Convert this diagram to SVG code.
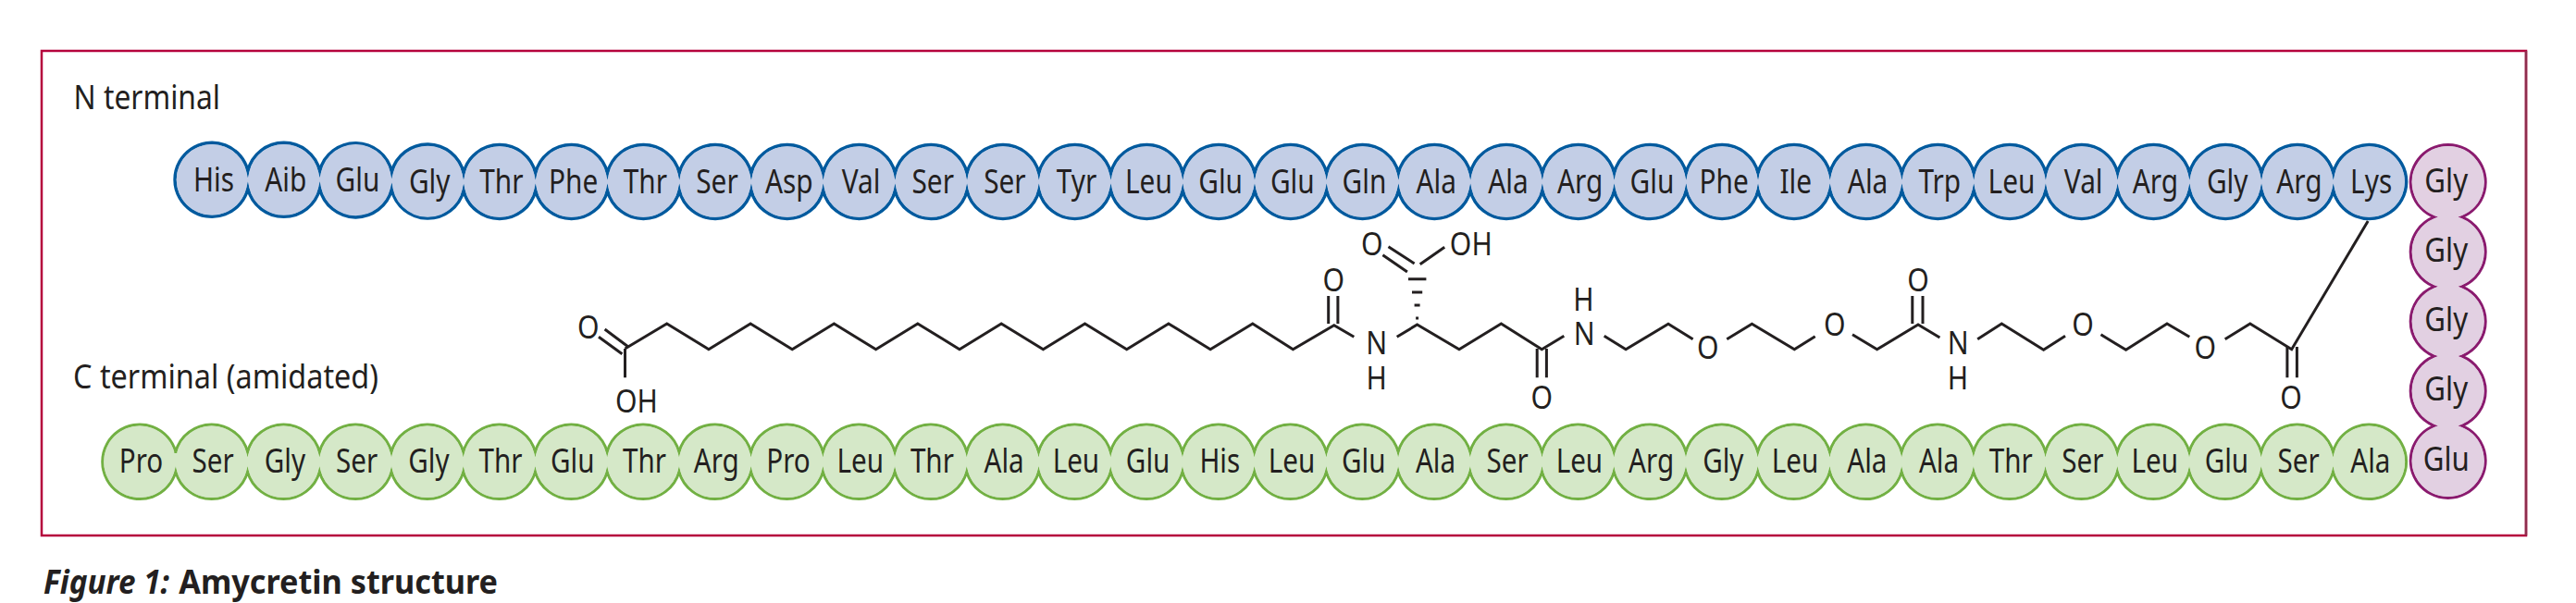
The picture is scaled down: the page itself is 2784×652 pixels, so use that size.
<svg xmlns="http://www.w3.org/2000/svg" width="2784" height="652" viewBox="0 0 2784 652">
<style>
text{font-family:"Noto Sans","Open Sans","Liberation Sans",sans-serif;fill:#231f20;font-size:35.5px}
.n text{text-anchor:middle}
.b text{transform:translate(2px,12.6px) scale(.84,1)}
.g text{font-size:37px;transform:translate(1.5px,12px) scale(.8,1)}
.p text{transform:translate(-2px,10.5px) scale(.88,1)}
.b circle{fill:#c3cee6}.g circle{fill:#d5e8c8}.p circle{fill:#e2d0e2}
.chain{stroke-width:3.5;stroke-linejoin:miter;stroke-miterlimit:12}
.bond{fill:none;stroke:#231f20;stroke-width:3;stroke-linejoin:miter}
.a{text-anchor:middle}
</style>
<rect x="45" y="55" width="2685" height="524" fill="#fff" stroke="#b5003c" stroke-width="2.5"/>
<line x1="2730" y1="55" x2="2730" y2="579" stroke="#8e2d4d" stroke-width="2.5"/>
<text x="79.5" y="118" textLength="158.5" lengthAdjust="spacingAndGlyphs" style="font-size:36px">N terminal</text>
<text x="79" y="420" textLength="330" lengthAdjust="spacingAndGlyphs" style="font-size:36px">C terminal (amidated)</text>
<text x="47" y="641.5" textLength="136" lengthAdjust="spacingAndGlyphs" style="font-size:36.5px;font-weight:700;font-style:italic">Figure 1:</text>
<text x="193.3" y="641.5" textLength="344.7" lengthAdjust="spacingAndGlyphs" style="font-size:36.5px;font-weight:700">Amycretin structure</text>

<g id="chain-outlines">
<path class="chain" fill="#c3cee6" stroke="#005a9e" d="M267.9 184.8a40 40 0 0 1 77.72 0a40 40 0 0 1 77.72 1.1a40 40 0 0 1 77.72 1.1
a40 40 0 0 1 77.72 0a40 40 0 0 1 77.72 0a40 40 0 0 1 77.72 0a40 40 0 0 1 77.72 0a40 40 0 0 1 77.72 0a40 40 0 0 1 77.72 0a40 40 0 0 1 77.72 0a40 40 0 0 1 77.72 0a40 40 0 0 1 77.72 0a40 40 0 0 1 77.72 0a40 40 0 0 1 77.72 0a40 40 0 0 1 77.72 0a40 40 0 0 1 77.72 0
a40 40 0 0 1 77.72 0a40 40 0 0 1 77.72 0a40 40 0 0 1 77.72 0a40 40 0 0 1 77.72 0a40 40 0 0 1 77.72 0a40 40 0 0 1 77.72 0a40 40 0 0 1 77.72 0a40 40 0 0 1 77.72 0a40 40 0 0 1 77.72 0a40 40 0 0 1 77.72 0a40 40 0 0 1 77.72 0a40 40 0 0 1 77.72 0a40 40 0 0 1 77.72 0
a40 40 0 1 1 0 19
a40 40 0 0 1 -77.72 0a40 40 0 0 1 -77.72 0a40 40 0 0 1 -77.72 0a40 40 0 0 1 -77.72 0a40 40 0 0 1 -77.72 0a40 40 0 0 1 -77.72 0a40 40 0 0 1 -77.72 0a40 40 0 0 1 -77.72 0a40 40 0 0 1 -77.72 0a40 40 0 0 1 -77.72 0a40 40 0 0 1 -77.72 0a40 40 0 0 1 -77.72 0a40 40 0 0 1 -77.72 0
a40 40 0 0 1 -77.72 0a40 40 0 0 1 -77.72 0a40 40 0 0 1 -77.72 0a40 40 0 0 1 -77.72 0a40 40 0 0 1 -77.72 0a40 40 0 0 1 -77.72 0a40 40 0 0 1 -77.72 0a40 40 0 0 1 -77.72 0a40 40 0 0 1 -77.72 0a40 40 0 0 1 -77.72 0a40 40 0 0 1 -77.72 0a40 40 0 0 1 -77.72 0a40 40 0 0 1 -77.72 0
a40 40 0 0 1 -77.72 -1.1a40 40 0 0 1 -77.72 -1.1a40 40 0 0 1 -77.72 0a40 40 0 1 1 0 -19z"/>
<path class="chain" style="stroke-width:3" fill="#d5e8c8" stroke="#72b043" d="M189.86 488.6
a40.3 40.3 0 0 1 77.72 0a40.3 40.3 0 0 1 77.72 0a40.3 40.3 0 0 1 77.72 0a40.3 40.3 0 0 1 77.72 0a40.3 40.3 0 0 1 77.72 0a40.3 40.3 0 0 1 77.72 0a40.3 40.3 0 0 1 77.72 0a40.3 40.3 0 0 1 77.72 0a40.3 40.3 0 0 1 77.72 0a40.3 40.3 0 0 1 77.72 0
a40.3 40.3 0 0 1 77.72 0a40.3 40.3 0 0 1 77.72 0a40.3 40.3 0 0 1 77.72 0a40.3 40.3 0 0 1 77.72 0a40.3 40.3 0 0 1 77.72 0a40.3 40.3 0 0 1 77.72 0a40.3 40.3 0 0 1 77.72 0a40.3 40.3 0 0 1 77.72 0a40.3 40.3 0 0 1 77.72 0a40.3 40.3 0 0 1 77.72 0
a40.3 40.3 0 0 1 77.72 0a40.3 40.3 0 0 1 77.72 0a40.3 40.3 0 0 1 77.72 0a40.3 40.3 0 0 1 77.72 0a40.3 40.3 0 0 1 77.72 0a40.3 40.3 0 0 1 77.72 0a40.3 40.3 0 0 1 77.72 0a40.3 40.3 0 0 1 77.72 0a40.3 40.3 0 0 1 77.72 0a40.3 40.3 0 0 1 77.72 0
a40.3 40.3 0 1 1 0 21.4
a40.3 40.3 0 0 1 -77.72 0a40.3 40.3 0 0 1 -77.72 0a40.3 40.3 0 0 1 -77.72 0a40.3 40.3 0 0 1 -77.72 0a40.3 40.3 0 0 1 -77.72 0a40.3 40.3 0 0 1 -77.72 0a40.3 40.3 0 0 1 -77.72 0a40.3 40.3 0 0 1 -77.72 0a40.3 40.3 0 0 1 -77.72 0a40.3 40.3 0 0 1 -77.72 0
a40.3 40.3 0 0 1 -77.72 0a40.3 40.3 0 0 1 -77.72 0a40.3 40.3 0 0 1 -77.72 0a40.3 40.3 0 0 1 -77.72 0a40.3 40.3 0 0 1 -77.72 0a40.3 40.3 0 0 1 -77.72 0a40.3 40.3 0 0 1 -77.72 0a40.3 40.3 0 0 1 -77.72 0a40.3 40.3 0 0 1 -77.72 0a40.3 40.3 0 0 1 -77.72 0
a40.3 40.3 0 0 1 -77.72 0a40.3 40.3 0 0 1 -77.72 0a40.3 40.3 0 0 1 -77.72 0a40.3 40.3 0 0 1 -77.72 0a40.3 40.3 0 0 1 -77.72 0a40.3 40.3 0 0 1 -77.72 0a40.3 40.3 0 0 1 -77.72 0a40.3 40.3 0 0 1 -77.72 0a40.3 40.3 0 0 1 -77.72 0a40.3 40.3 0 0 1 -77.72 0
a40.3 40.3 0 1 1 0 -21.4z"/>
<path class="chain" style="stroke-width:3" fill="#e2d0e2" stroke="#8a1a6e" d="M2660.7 234.6a40.5 40.5 0 0 1 0 75.25a40.5 40.5 0 0 1 0 75.25a40.5 40.5 0 0 1 0 75.25a40.5 40.5 0 1 1 -30 0a40.5 40.5 0 0 1 0 -75.25a40.5 40.5 0 0 1 0 -75.25a40.5 40.5 0 0 1 0 -75.25a40.5 40.5 0 1 1 30 0z"/>
</g>

<g id="connectors">
<path class="bond" d="M675.5 377L720.7 350L765.9 377.7L811.1 350L856.2 377.7L901.4 350L946.6 377.7L991.8 350L1037 377.7L1082.2 350L1127.4 377.7L1172.5 350L1217.7 377.7L1262.9 350L1308.1 377.7L1353.8 350L1397.4 377.7L1441.8 351.7L1463.3 364.3"/>
<path class="bond" d="M653.6 356L679 375M647 364.3L672.4 382.7M675.5 377V408.3"/>
<path class="bond" d="M1435.7 320V350M1445.9 320V350"/>
<path class="bond" d="M1509.7 364.3L1531.6 351L1577 377.7L1622.4 350L1666.3 377.7L1690.3 363.3"/>
<path class="bond" d="M1661.2 377V408.3M1671.4 377V408.3"/>
<path class="bond" d="M1733.7 363.3L1757.1 377.7L1803 350.3L1829.6 366.7"/>
<path class="bond" d="M1866.3 366.7L1893.4 350.3L1939.3 377.7L1961.7 363.7"/>
<path class="bond" d="M2002 361.7L2028.6 377.7L2073 351L2096.4 365"/>
<path class="bond" d="M2066.8 320V350M2078 320V350"/>
<path class="bond" d="M2137.2 366.7L2163.3 350L2208.6 378.3L2232 363.3"/>
<path class="bond" d="M2270.5 361.7L2297.6 378.3L2342 350L2366.3 364.3"/>
<path class="bond" d="M2404.7 366.7L2431.8 350L2476.7 377.7L2559.2 239"/>
<path class="bond" d="M2471.9 375V408.3M2482.4 375V408.3"/>
<path class="bond" d="M1500.5 266.7L1528.6 285M1494.4 275.7L1520.9 294M1534.7 285.7L1561.2 267.3"/>
<path class="bond" d="M1522 301.7H1541.4M1526 316H1537.2M1528.6 330H1534.6M1530.1 344H1533.1"/>
</g>

<g id="atoms" class="a">
<text class="a" transform="translate(635.7 366) scale(.85 1)">O</text>
<text class="a" transform="translate(688 446) scale(.85 1)">OH</text>
<text class="a" transform="translate(1441.3 315) scale(.85 1)">O</text>
<text class="a" transform="translate(1487.8 383.3) scale(.85 1)">N</text>
<text class="a" transform="translate(1487.8 420.7) scale(.85 1)">H</text>
<text class="a" transform="translate(1482.7 276) scale(.85 1)">O</text>
<text class="a" transform="translate(1589.8 276) scale(.85 1)">OH</text>
<text class="a" transform="translate(1666.3 441.7) scale(.85 1)">O</text>
<text class="a" transform="translate(1712.2 373.3) scale(.85 1)">N</text>
<text class="a" transform="translate(1711.5 335.7) scale(.85 1)">H</text>
<text class="a" transform="translate(1845.9 387.7) scale(.85 1)">O</text>
<text class="a" transform="translate(1982.7 363.3) scale(.85 1)">O</text>
<text class="a" transform="translate(2073 315) scale(.85 1)">O</text>
<text class="a" transform="translate(2116.3 383.3) scale(.85 1)">N</text>
<text class="a" transform="translate(2116 420.7) scale(.85 1)">H</text>
<text class="a" transform="translate(2251 362.7) scale(.85 1)">O</text>
<text class="a" transform="translate(2383.3 387.7) scale(.85 1)">O</text>
<text class="a" transform="translate(2476 441.7) scale(.85 1)">O</text>
</g>

<g id="n-chain" class="b">
<g id="n1" class="n" transform="translate(229 194.3)"><circle r="38.3"/><text>His</text></g>
<g id="n2" class="n" transform="translate(306.7 194.3)"><circle r="38.3"/><text>Aib</text></g>
<g id="n3" class="n" transform="translate(384.4 194.3)"><circle r="38.3"/><text>Glu</text></g>
<g id="n4" class="n" transform="translate(462.2 196.5)"><circle r="38.3"/><text>Gly</text></g>
<g id="n5" class="n" transform="translate(539.9 196.5)"><circle r="38.3"/><text>Thr</text></g>
<g id="n6" class="n" transform="translate(617.6 196.5)"><circle r="38.3"/><text>Phe</text></g>
<g id="n7" class="n" transform="translate(695.3 196.5)"><circle r="38.3"/><text>Thr</text></g>
<g id="n8" class="n" transform="translate(773 196.5)"><circle r="38.3"/><text>Ser</text></g>
<g id="n9" class="n" transform="translate(850.8 196.5)"><circle r="38.3"/><text>Asp</text></g>
<g id="n10" class="n" transform="translate(928.5 196.5)"><circle r="38.3"/><text>Val</text></g>
<g id="n11" class="n" transform="translate(1006.2 196.5)"><circle r="38.3"/><text>Ser</text></g>
<g id="n12" class="n" transform="translate(1083.9 196.5)"><circle r="38.3"/><text>Ser</text></g>
<g id="n13" class="n" transform="translate(1161.6 196.5)"><circle r="38.3"/><text>Tyr</text></g>
<g id="n14" class="n" transform="translate(1239.4 196.5)"><circle r="38.3"/><text>Leu</text></g>
<g id="n15" class="n" transform="translate(1317.1 196.5)"><circle r="38.3"/><text>Glu</text></g>
<g id="n16" class="n" transform="translate(1394.8 196.5)"><circle r="38.3"/><text>Glu</text></g>
<g id="n17" class="n" transform="translate(1472.5 196.5)"><circle r="38.3"/><text>Gln</text></g>
<g id="n18" class="n" transform="translate(1550.2 196.5)"><circle r="38.3"/><text>Ala</text></g>
<g id="n19" class="n" transform="translate(1628 196.5)"><circle r="38.3"/><text>Ala</text></g>
<g id="n20" class="n" transform="translate(1705.7 196.5)"><circle r="38.3"/><text>Arg</text></g>
<g id="n21" class="n" transform="translate(1783.4 196.5)"><circle r="38.3"/><text>Glu</text></g>
<g id="n22" class="n" transform="translate(1861.1 196.5)"><circle r="38.3"/><text>Phe</text></g>
<g id="n23" class="n" transform="translate(1938.8 196.5)"><circle r="38.3"/><text>Ile</text></g>
<g id="n24" class="n" transform="translate(2016.6 196.5)"><circle r="38.3"/><text>Ala</text></g>
<g id="n25" class="n" transform="translate(2094.3 196.5)"><circle r="38.3"/><text>Trp</text></g>
<g id="n26" class="n" transform="translate(2172 196.5)"><circle r="38.3"/><text>Leu</text></g>
<g id="n27" class="n" transform="translate(2249.7 196.5)"><circle r="38.3"/><text>Val</text></g>
<g id="n28" class="n" transform="translate(2327.4 196.5)"><circle r="38.3"/><text>Arg</text></g>
<g id="n29" class="n" transform="translate(2405.2 196.5)"><circle r="38.3"/><text>Gly</text></g>
<g id="n30" class="n" transform="translate(2482.9 196.5)"><circle r="38.3"/><text>Arg</text></g>
<g id="n31" class="n" transform="translate(2560.6 196.5)"><circle r="38.3"/><text>Lys</text></g>
</g>

<g id="linker" class="p">
<g id="l1" class="n" transform="translate(2645.7 197)"><circle r="39"/><text>Gly</text></g>
<g id="l2" class="n" transform="translate(2645.7 272.25)"><circle r="39"/><text>Gly</text></g>
<g id="l3" class="n" transform="translate(2645.7 347.5)"><circle r="39"/><text>Gly</text></g>
<g id="l4" class="n" transform="translate(2645.7 422.75)"><circle r="39"/><text>Gly</text></g>
<g id="l5" class="n" transform="translate(2645.7 498)"><circle r="39"/><text>Glu</text></g>
</g>

<g id="c-chain" class="g">
<g id="c1" class="n" transform="translate(151 499.3)"><circle r="38.8"/><text>Pro</text></g>
<g id="c2" class="n" transform="translate(228.7 499.3)"><circle r="38.8"/><text>Ser</text></g>
<g id="c3" class="n" transform="translate(306.4 499.3)"><circle r="38.8"/><text>Gly</text></g>
<g id="c4" class="n" transform="translate(384.2 499.3)"><circle r="38.8"/><text>Ser</text></g>
<g id="c5" class="n" transform="translate(461.9 499.3)"><circle r="38.8"/><text>Gly</text></g>
<g id="c6" class="n" transform="translate(539.6 499.3)"><circle r="38.8"/><text>Thr</text></g>
<g id="c7" class="n" transform="translate(617.3 499.3)"><circle r="38.8"/><text>Glu</text></g>
<g id="c8" class="n" transform="translate(695 499.3)"><circle r="38.8"/><text>Thr</text></g>
<g id="c9" class="n" transform="translate(772.8 499.3)"><circle r="38.8"/><text>Arg</text></g>
<g id="c10" class="n" transform="translate(850.5 499.3)"><circle r="38.8"/><text>Pro</text></g>
<g id="c11" class="n" transform="translate(928.2 499.3)"><circle r="38.8"/><text>Leu</text></g>
<g id="c12" class="n" transform="translate(1005.9 499.3)"><circle r="38.8"/><text>Thr</text></g>
<g id="c13" class="n" transform="translate(1083.6 499.3)"><circle r="38.8"/><text>Ala</text></g>
<g id="c14" class="n" transform="translate(1161.4 499.3)"><circle r="38.8"/><text>Leu</text></g>
<g id="c15" class="n" transform="translate(1239.1 499.3)"><circle r="38.8"/><text>Glu</text></g>
<g id="c16" class="n" transform="translate(1316.8 499.3)"><circle r="38.8"/><text>His</text></g>
<g id="c17" class="n" transform="translate(1394.5 499.3)"><circle r="38.8"/><text>Leu</text></g>
<g id="c18" class="n" transform="translate(1472.2 499.3)"><circle r="38.8"/><text>Glu</text></g>
<g id="c19" class="n" transform="translate(1550 499.3)"><circle r="38.8"/><text>Ala</text></g>
<g id="c20" class="n" transform="translate(1627.7 499.3)"><circle r="38.8"/><text>Ser</text></g>
<g id="c21" class="n" transform="translate(1705.4 499.3)"><circle r="38.8"/><text>Leu</text></g>
<g id="c22" class="n" transform="translate(1783.1 499.3)"><circle r="38.8"/><text>Arg</text></g>
<g id="c23" class="n" transform="translate(1860.8 499.3)"><circle r="38.8"/><text>Gly</text></g>
<g id="c24" class="n" transform="translate(1938.6 499.3)"><circle r="38.8"/><text>Leu</text></g>
<g id="c25" class="n" transform="translate(2016.3 499.3)"><circle r="38.8"/><text>Ala</text></g>
<g id="c26" class="n" transform="translate(2094 499.3)"><circle r="38.8"/><text>Ala</text></g>
<g id="c27" class="n" transform="translate(2171.7 499.3)"><circle r="38.8"/><text>Thr</text></g>
<g id="c28" class="n" transform="translate(2249.4 499.3)"><circle r="38.8"/><text>Ser</text></g>
<g id="c29" class="n" transform="translate(2327.2 499.3)"><circle r="38.8"/><text>Leu</text></g>
<g id="c30" class="n" transform="translate(2404.9 499.3)"><circle r="38.8"/><text>Glu</text></g>
<g id="c31" class="n" transform="translate(2482.6 499.3)"><circle r="38.8"/><text>Ser</text></g>
<g id="c32" class="n" transform="translate(2560.3 499.3)"><circle r="38.8"/><text>Ala</text></g>
</g>
</svg>
